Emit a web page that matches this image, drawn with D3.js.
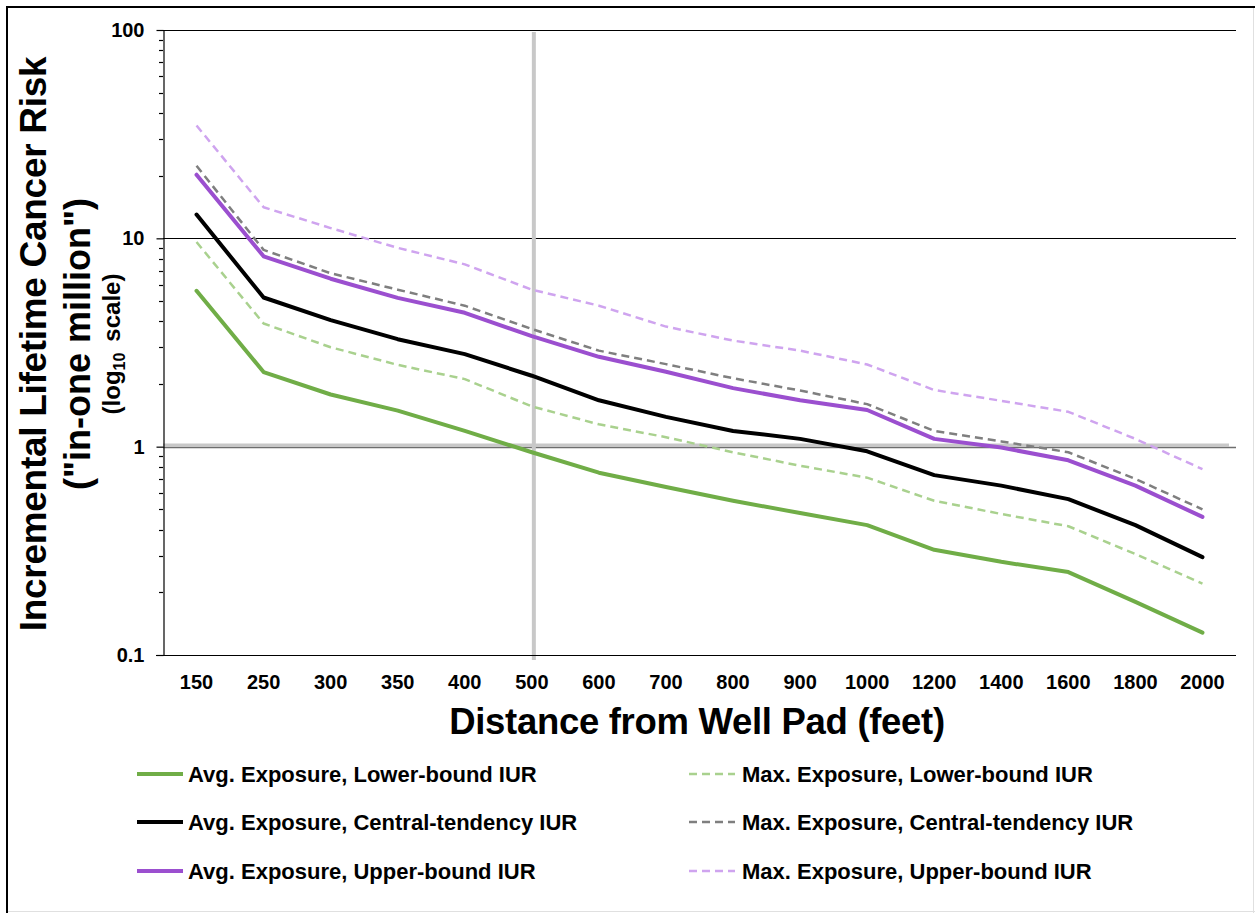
<!DOCTYPE html>
<html>
<head>
<meta charset="utf-8">
<script src="https://cdnjs.cloudflare.com/ajax/libs/d3/7.8.5/d3.min.js"></script>
<style>
html,body{margin:0;padding:0;background:#fff;}
text{font-family:"Liberation Sans",Arial,sans-serif;font-weight:bold;fill:#000;}
</style>
</head>
<body>
<svg id="chart" width="1255" height="913"></svg>
<script>
const distances = ["150","250","300","350","400","500","600","700","800","900","1000","1200","1400","1600","1800","2000"];
const avgLower   = [5.6, 2.28, 1.78, 1.49, 1.19, 0.94, 0.75, 0.64, 0.55, 0.48, 0.42, 0.32, 0.28, 0.25, 0.18, 0.128];
const maxLower   = [9.6, 3.9, 3.0, 2.47, 2.11, 1.56, 1.28, 1.11, 0.94, 0.81, 0.71, 0.55, 0.475, 0.415, 0.305, 0.22];
const avgCentral = [13.0, 5.2, 4.05, 3.28, 2.78, 2.19, 1.67, 1.39, 1.19, 1.09, 0.95, 0.73, 0.65, 0.56, 0.42, 0.295];
const maxCentral = [22.3, 8.8, 6.8, 5.67, 4.75, 3.67, 2.89, 2.49, 2.13, 1.86, 1.6, 1.19, 1.06, 0.94, 0.7, 0.5];
const avgUpper   = [20.2, 8.2, 6.4, 5.18, 4.39, 3.39, 2.7, 2.29, 1.91, 1.67, 1.5, 1.09, 0.99, 0.86, 0.65, 0.46];
const maxUpper   = [34.8, 14.1, 11.2, 9.0, 7.5, 5.67, 4.75, 3.77, 3.23, 2.89, 2.48, 1.87, 1.66, 1.47, 1.09, 0.78];
const yTickValues = [0.1, 1, 10, 100];
const yTickLabels = ["0.1", "1", "10", "100"];
const seriesNames = ["Avg. Exposure, Lower-bound IUR","Max. Exposure, Lower-bound IUR",
  "Avg. Exposure, Central-tendency IUR","Max. Exposure, Central-tendency IUR",
  "Avg. Exposure, Upper-bound IUR","Max. Exposure, Upper-bound IUR"];

const series = [
  {name: seriesNames[0], values: avgLower,   color: "#70ad47", width: 4,   dash: null},
  {name: seriesNames[1], values: maxLower,   color: "#a9d18e", width: 2.5, dash: "8,5"},
  {name: seriesNames[2], values: avgCentral, color: "#000000", width: 4,   dash: null},
  {name: seriesNames[3], values: maxCentral, color: "#7f7f7f", width: 2.5, dash: "8,5"},
  {name: seriesNames[4], values: avgUpper,   color: "#9b4fcf", width: 4,   dash: null},
  {name: seriesNames[5], values: maxUpper,   color: "#cfa4ef", width: 2.5, dash: "8,5"}
];

const svg = d3.select("#chart");
svg.append("rect").attr("width",1255).attr("height",913).attr("fill","#fff");
// outer frame
svg.append("line").attr("x1",7).attr("x2",7).attr("y1",6).attr("y2",913).attr("stroke","#000").attr("stroke-width",2);
svg.append("line").attr("x1",6).attr("x2",1255).attr("y1",7).attr("y2",7).attr("stroke","#000").attr("stroke-width",2);
svg.append("line").attr("x1",1253.5).attr("x2",1253.5).attr("y1",8).attr("y2",913).attr("stroke","#e0e0e0").attr("stroke-width",1);
svg.append("line").attr("x1",8).attr("x2",1255).attr("y1",911.5).attr("y2",911.5).attr("stroke","#e0e0e0").attr("stroke-width",1);

const L = 163, R = 1236, T = 30, B = 655;
const x = d3.scaleBand().domain(distances).range([L, R]).padding(0);
const cx = d => x(d) + x.bandwidth()/2;
const y = d3.scaleLog().domain([0.1, 100]).range([B, T]);

// gridlines at 10 and 100
[10, 100].forEach(v => {
  svg.append("line").attr("x1",L).attr("x2",R).attr("y1",Math.round(y(v))+0.5).attr("y2",Math.round(y(v))+0.5)
    .attr("stroke","#000").attr("stroke-width",1.2);
});
// reference line at 1
svg.append("line").attr("x1",L).attr("x2",R).attr("y1",Math.round(y(1))+0.5).attr("y2",Math.round(y(1))+0.5)
  .attr("stroke","#6e6e6e").attr("stroke-width",1.5);
svg.append("line").attr("x1",L).attr("x2",R-7).attr("y1",y(1)-1.5).attr("y2",y(1)-1.5)
  .attr("stroke","#c8c8c8").attr("stroke-width",3.5);
// vertical reference at 500 ft
svg.append("line").attr("x1",cx("500")+2).attr("x2",cx("500")+2).attr("y1",T+2).attr("y2",B+5)
  .attr("stroke","#c8c8c8").attr("stroke-width",4);

// axes
const yAxis = d3.axisLeft(y).tickValues(yTickValues).tickFormat((d,i)=>yTickLabels[i]).tickSize(7).tickSizeOuter(0);
const gy = svg.append("g").attr("transform",`translate(${L+0.5},0)`).call(yAxis);
gy.select(".domain").attr("stroke","#000").attr("stroke-width",1.2);
gy.selectAll(".tick line").attr("stroke","#000").attr("stroke-width",1.2);
gy.selectAll(".tick text").attr("x",-19).style("font-size","20px").style("font-family","'Liberation Sans',Arial,sans-serif").style("font-weight","bold").attr("fill","#000");
// minor ticks
const minor = [];
[0.1,1,10].forEach(b => { for (let k=2;k<=9;k++) minor.push(b*k); });
svg.append("g").selectAll("line").data(minor).join("line")
  .attr("x1",L-4).attr("x2",L).attr("y1",d=>Math.round(y(d))+0.5).attr("y2",d=>Math.round(y(d))+0.5)
  .attr("stroke","#000").attr("stroke-width",1.2);

const xAxis = d3.axisBottom(x).tickSize(0).tickPadding(0);
const gx = svg.append("g").attr("transform",`translate(0,${B+0.5})`).call(xAxis);
gx.select(".domain").remove();
svg.append("line").attr("x1",L-7).attr("x2",R).attr("y1",B+0.5).attr("y2",B+0.5).attr("stroke","#000").attr("stroke-width",1.2);
gx.selectAll(".tick text").attr("y",33).attr("dy",0).style("font-size","20px")
  .style("font-family","'Liberation Sans',Arial,sans-serif").style("font-weight","bold").attr("fill","#000");

// series lines
const line = d3.line().x((d,i)=>cx(distances[i])).y(d=>y(d));
series.forEach(s => {
  svg.append("path").datum(s.values).attr("d",line).attr("fill","none")
    .attr("stroke",s.color).attr("stroke-width",s.width)
    .attr("stroke-dasharray",s.dash).attr("stroke-linejoin","round").attr("stroke-linecap", s.dash ? "butt" : "round");
});

// axis titles
svg.append("text").attr("x",697).attr("y",734).attr("text-anchor","middle")
  .style("font-size","36.5px").style("letter-spacing","-0.3px").text("Distance from Well Pad (feet)");
const yt = svg.append("g").attr("transform","translate(0,344)");
yt.append("text").attr("transform","translate(46,0) rotate(-90)").attr("text-anchor","middle")
  .style("font-size","37px").style("letter-spacing","-0.3px").text("Incremental Lifetime Cancer Risk");
yt.append("text").attr("transform","translate(90,0) rotate(-90)").attr("text-anchor","middle")
  .style("font-size","36px").text("(\"in-one million\")");
const t3 = yt.append("text").attr("transform","translate(120,0) rotate(-90)").attr("text-anchor","middle")
  .style("font-size","24px");
t3.append("tspan").text("(log");
t3.append("tspan").attr("dy",5).style("font-size","16px").text("10");
t3.append("tspan").attr("dy",-5).attr("dx",11).text("scale)");

// legend
const legRows = [774, 822, 871];
const legCols = [{x1:137, x2:183, tx:188}, {x1:689, x2:735, tx:742}];
series.forEach((s,i) => {
  const c = legCols[i%2], r = legRows[Math.floor(i/2)];
  svg.append("line").attr("x1",c.x1).attr("x2",c.x2).attr("y1",r).attr("y2",r)
    .attr("stroke",s.color).attr("stroke-width",s.width).attr("stroke-dasharray",s.dash);
  svg.append("text").attr("x",c.tx).attr("y",r).attr("dy","0.36em").style("font-size","22px").text(s.name);
});
</script>
</body>
</html>
